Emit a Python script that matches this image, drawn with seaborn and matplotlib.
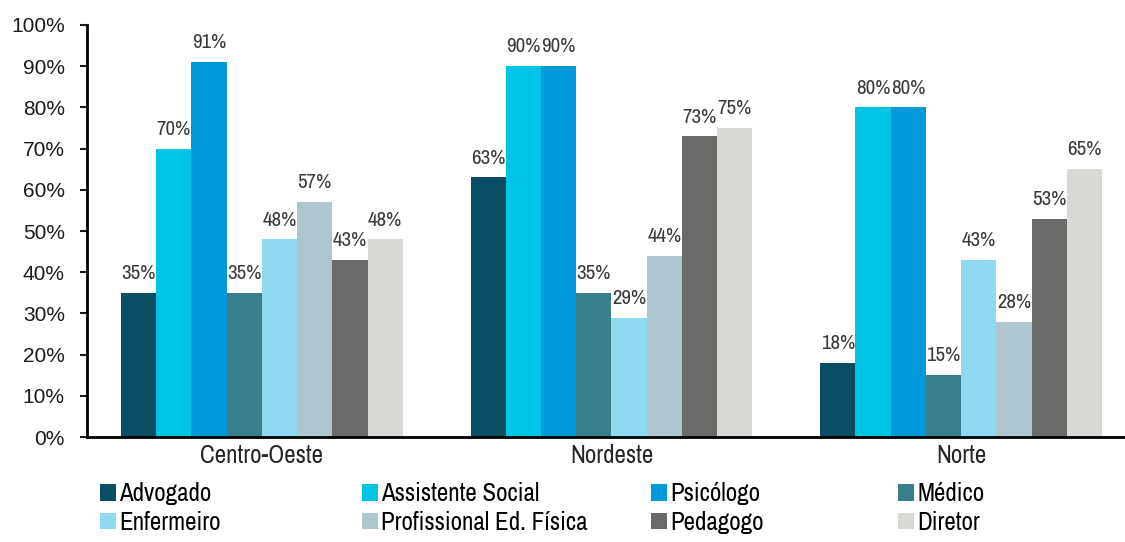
import matplotlib
matplotlib.use("Agg")
import matplotlib.pyplot as plt
from matplotlib import font_manager
from matplotlib.font_manager import FontProperties
from matplotlib.ticker import FuncFormatter, FixedLocator
from matplotlib.patches import Patch
import seaborn as sns
import pandas as pd

regioes = ["Centro-Oeste", "Nordeste", "Norte"]
cargos = ["Advogado", "Assistente Social", "Psicólogo", "Médico",
          "Enfermeiro", "Profissional Ed. Física", "Pedagogo", "Diretor"]
centro_oeste = [35, 70, 91, 35, 48, 57, 43, 48]
nordeste = [63, 90, 90, 35, 29, 44, 73, 75]
norte = [18, 80, 80, 15, 43, 28, 53, 65]
cores = ["#0b4d62", "#00c4e6", "#0099da", "#3a7e8e",
         "#8fd9f2", "#aec7cf", "#6a6a68", "#d8d8d5"]

linhas = []
for regiao, valores in zip(regioes, [centro_oeste, nordeste, norte]):
    for cargo, v in zip(cargos, valores):
        linhas.append({"regiao": regiao, "cargo": cargo, "pct": v})
df = pd.DataFrame(linhas)

sns.set_theme(style="white")
plt.rcParams["font.family"] = ["Liberation Sans", "DejaVu Sans"]

# a narrow face for labels when one is installed
estreita = None
for f in font_manager.fontManager.ttflist:
    nome = f.fname.lower()
    if "narrow" in nome and "bold" not in nome and "italic" not in nome:
        estreita = f.fname
        break
if estreita is None:
    for f in font_manager.fontManager.ttflist:
        nome = f.fname.lower()
        if "condensed" in nome and "bold" not in nome and "oblique" not in nome \
                and "italic" not in nome and "mono" not in nome and "serif" not in nome.replace("sans", ""):
            estreita = f.fname
            break


def fonte(tam_estreita, tam_normal):
    if estreita:
        return FontProperties(fname=estreita, size=tam_estreita)
    return FontProperties(family="Liberation Sans", size=tam_normal)


fig = plt.figure(figsize=(11.25, 5.42), dpi=100)
ax = fig.add_axes([87 / 1125, 0.1937, 1049 / 1125, 0.7602])

sns.barplot(data=df, x="regiao", y="pct", hue="cargo", order=regioes,
            hue_order=cargos, palette=cores, width=0.806, saturation=1,
            linewidth=0, edgecolor="none", ax=ax)

fp_val = fonte(15, 12)
for cont in ax.containers:
    vals = [b.get_height() for b in cont]
    ax.bar_label(cont, labels=[f"{v:.0f}%" for v in vals], padding=7,
                 fontproperties=fp_val, color="#3a3a3a")

ax.set_ylim(0, 100)
ax.set_xlim(-0.5, 2.5)
ax.yaxis.set_major_locator(FixedLocator(range(0, 101, 10)))
ax.yaxis.set_major_formatter(FuncFormatter(lambda v, p: f"{v:.0f}%"))
ax.tick_params(axis="y", direction="out", length=5, width=1.5,
               labelsize=15, colors="#1a1a1a", pad=11, left=True)
ax.set_xticks([0, 1, 2])
ax.set_xticklabels(regioes)
fp_cat = fonte(18, 15.5)
for t in ax.get_xticklabels():
    t.set_fontproperties(fp_cat)
ax.tick_params(axis="x", length=0, pad=5)
ax.set_xticks([-0.5, 0.5, 1.5, 2.5], minor=True)
ax.tick_params(axis="x", which="minor", direction="out", length=5, width=1.5)
ax.set_xlabel("")
ax.set_ylabel("")
for s in ["top", "right"]:
    ax.spines[s].set_visible(False)
for s in ["left", "bottom"]:
    ax.spines[s].set_color("black")
    ax.spines[s].set_linewidth(2)
if ax.get_legend() is not None:
    ax.get_legend().remove()

# legend: four columns of two entries each
fp_leg = fonte(18, 15.5)
colunas_x = [100, 362, 651, 898]
for c, x0 in enumerate(colunas_x):
    idx = [c, c + 4]
    alças = [Patch(facecolor=cores[i], edgecolor="none") for i in idx]
    leg = fig.legend(alças, [cargos[i] for i in idx], loc="center left",
                     bbox_to_anchor=(x0 / 1125, 1 - 508 / 542), ncol=1,
                     frameon=False, handlelength=0.65, handleheight=0.65,
                     handletextpad=0.12, labelspacing=0.22, borderpad=0,
                     borderaxespad=0, prop=fp_leg)
    for t in leg.get_texts():
        t.set_color("black")

fig.savefig("out.png", dpi=100, facecolor="white")
